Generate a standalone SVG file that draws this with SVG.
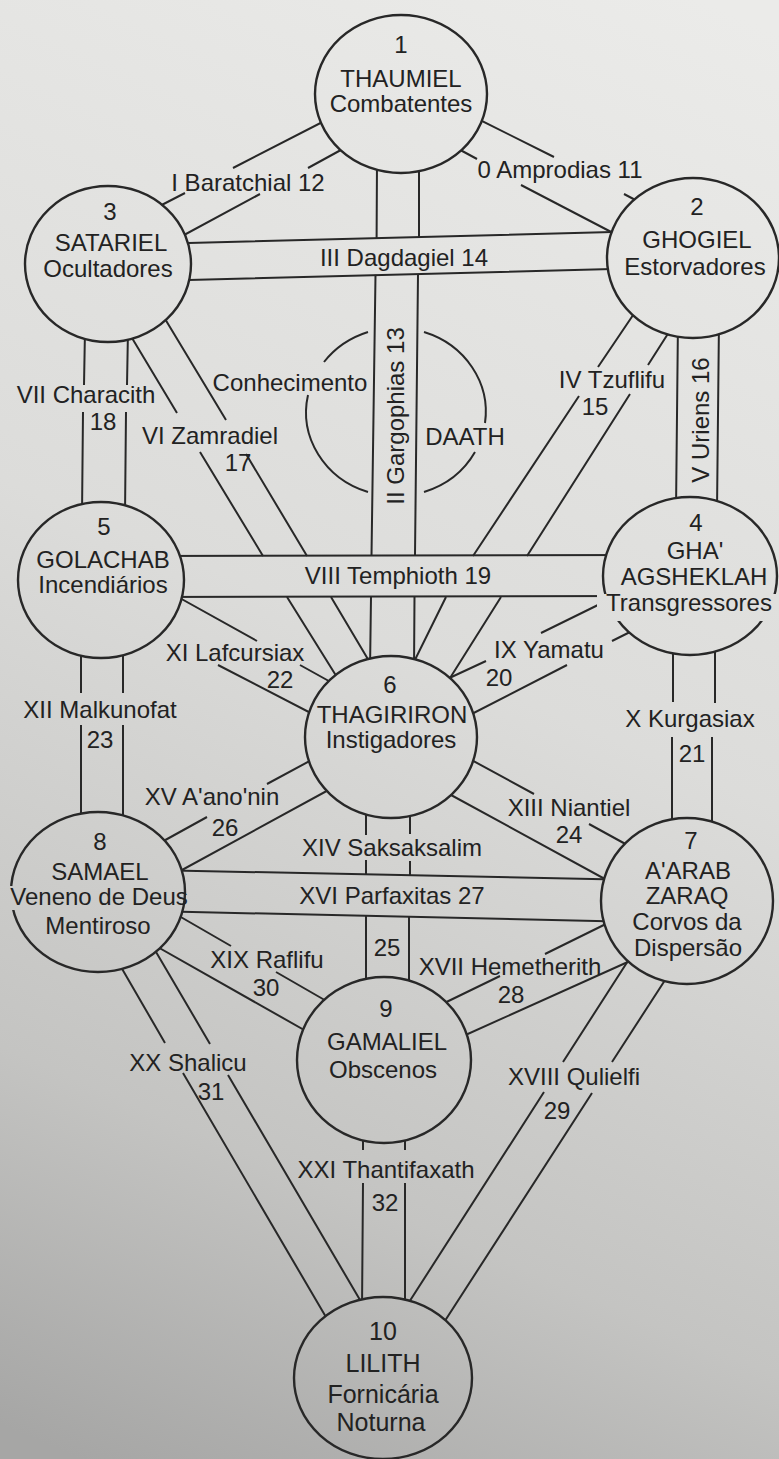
<svg xmlns="http://www.w3.org/2000/svg" width="779" height="1459" viewBox="0 0 779 1459">
<defs>
<linearGradient id="paper" gradientUnits="userSpaceOnUse" x1="700" y1="0" x2="80" y2="1459">
<stop offset="0" stop-color="#ebebe9"/>
<stop offset="0.45" stop-color="#dcdcda"/>
<stop offset="0.78" stop-color="#c4c4c2"/>
<stop offset="1" stop-color="#a6a6a5"/>
</linearGradient>
<style>
.ln{stroke:#282828;stroke-width:2;fill:none}
.nd{fill:url(#paper);stroke:#282828;stroke-width:2.4}
.msk{fill:url(#paper)}
.t{font-family:"Liberation Sans",Arial,sans-serif;font-size:24px;fill:#222;text-anchor:middle}
.big{font-size:25px}
</style>
</defs>
<rect x="0" y="0" width="779" height="1459" fill="url(#paper)"/>

<g id="connectors">
<path id="p11" class="ln" d="M460,110 L554,157 M624,194 L660,213 M440,139 L477,159 M521,185 L640,247"/>
<path id="p12" class="ln" d="M340,113 L233,168 M185,193 L150,211 M350,145 L308,168 M260,194 L160,248"/>
<path id="p13" class="ln" d="M377,160 L376.6,238.6 M375.5,274.7 L371.5,556 M371,597 L370,670 M419,160 L419,237.6 M418,274.4 L415,555 M414.5,596 L414,670"/>
<path id="p14" class="ln" d="M150,244 L650,231 M150,281 L650,268"/>
<path id="p15" class="ln" d="M650,290 L598,367 M579,396 L473,556 M446,597 L405,680 M685,307 L648,365 M630,394 L527,556 M501,597 L445,686"/>
<path id="p16" class="ln" d="M678,320 L676,510 M719,320 L717,510"/>
<path id="p17" class="ln" d="M120,318 L177,413 M200,452 L263,556 M287,597 L345,690 M150,294 L226,420 M246,454 L307,556 M331,597 L372,666"/>
<path id="p18" class="ln" d="M85,330 L84,385 M83,412 L82,515 M128,330 L127,385 M126,412 L125,515"/>
<path id="p19" class="ln" d="M150,556 L640,555 M150,597 L640,596"/>
<path id="p20" class="ln" d="M602,603 L541,633 M486,661 L430,687 M650,622 L612,641 M567,665 L460,720"/>
<path id="p21" class="ln" d="M673,640 L673,702 M672,737 L672,840 M715,640 L715,703 M712,737 L712,840"/>
<path id="p22" class="ln" d="M160,587 L257,641 M300,665 L345,690 M218,665 L330,723"/>
<path id="p23" class="ln" d="M81,640 L81,693 M81,725 L81,830 M123,640 L123,693 M123,725 L123,830"/>
<path id="p24" class="ln" d="M455,751 L534,794 M589,824 L640,852 M440,789 L625,890"/>
<path id="p25" class="ln" d="M366,800 L366,835 M366,860 L366,874.5 M410,800 L410,834 M410,861 L410,875.4 M366,916 L366,1000 M409,917 L409,1000"/>
<path id="p26" class="ln" d="M330,750 L267,784 M207,817 L140,854 M345,781 L160,882"/>
<path id="p27" class="ln" d="M150,870 L640,880 M150,911 L640,922"/>
<path id="p28" class="ln" d="M620,917 L545,954 M500,976 L430,1010 M650,952 L450,1042"/>
<path id="p29" class="ln" d="M635,950 L563,1062 M544,1092 L395,1324 M680,957 L612,1062 M592,1093 L430,1344"/>
<path id="p30" class="ln" d="M160,905 L231,946 M276,972 L335,1006 M140,937 L320,1039"/>
<path id="p31" class="ln" d="M110,948 L165,1043 M183,1073 L340,1341 M149,940 L210,1044 M228,1075 L370,1317"/>
<path id="p32" class="ln" d="M363,1130 L363,1150 M363,1183 L362,1310 M405,1130 L405,1150 M405,1183 L405,1310"/>
</g>

<g id="daath">
<path class="ln" d="M368,332 A90,84 0 0 0 324,362 M308,395 A90,84 0 0 0 368,492 M424,332 A90,84 0 0 1 485,423 M475,452 A90,84 0 0 1 424,492"/>
<text class="t" x="290" y="391">Conhecimento</text>
<text class="t" x="465" y="445">DAATH</text>
</g>

<g id="path-labels">
<text class="t" x="560" y="178">0 Amprodias 11</text>
<text class="t" x="248" y="191">I Baratchial 12</text>
<text class="t" x="404" y="266">III Dagdagiel 14</text>
<text class="t" transform="translate(404,416) rotate(-90)">II Gargophias 13</text>
<text class="t" x="612" y="388">IV Tzuflifu</text>
<text class="t" x="595" y="415">15</text>
<text class="t" transform="translate(709,420) rotate(-90)">V Uriens 16</text>
<text class="t" x="86" y="403">VII Characith</text>
<text class="t" x="103" y="430">18</text>
<text class="t" x="210" y="444">VI Zamradiel</text>
<text class="t" x="238" y="471">17</text>
<text class="t" x="398" y="584">VIII Temphioth 19</text>
<text class="t" x="235" y="661">XI Lafcursiax</text>
<text class="t" x="280" y="688">22</text>
<text class="t" x="549" y="658">IX Yamatu</text>
<text class="t" x="499" y="686">20</text>
<text class="t" x="100" y="718">XII Malkunofat</text>
<text class="t" x="100" y="748">23</text>
<text class="t" x="690" y="727">X Kurgasiax</text>
<text class="t" x="692" y="762">21</text>
<text class="t" x="212" y="805">XV A'ano'nin</text>
<text class="t" x="225" y="836">26</text>
<text class="t" x="569" y="816">XIII Niantiel</text>
<text class="t" x="569" y="843">24</text>
<text class="t" x="392" y="856">XIV Saksaksalim</text>
<text class="t" x="392" y="904">XVI Parfaxitas 27</text>
<text class="t" x="387" y="956">25</text>
<text class="t" x="267" y="968">XIX Raflifu</text>
<text class="t" x="266" y="996">30</text>
<text class="t" x="510" y="975">XVII Hemetherith</text>
<text class="t" x="511" y="1003">28</text>
<text class="t" x="188" y="1071">XX Shalicu</text>
<text class="t" x="211" y="1100">31</text>
<text class="t" x="574" y="1085">XVIII Qulielfi</text>
<text class="t" x="557" y="1119">29</text>
<text class="t" x="386" y="1178">XXI Thantifaxath</text>
<text class="t" x="385" y="1211">32</text>
</g>

<g id="node-1">
<ellipse class="nd" cx="401" cy="94" rx="86" ry="79"/>
<text class="t" x="401" y="53">1</text>
<text class="t" x="401" y="87">THAUMIEL</text>
<text class="t" x="401" y="112">Combatentes</text>
</g>
<g id="node-2">
<ellipse class="nd" cx="693" cy="258" rx="86" ry="80"/>
<text class="t" x="697" y="215">2</text>
<text class="t" x="697" y="248">GHOGIEL</text>
<text class="t" x="695" y="275">Estorvadores</text>
</g>
<g id="node-3">
<ellipse class="nd" cx="108" cy="264" rx="83" ry="78"/>
<text class="t" x="110" y="220">3</text>
<text class="t" x="111" y="251">SATARIEL</text>
<text class="t" x="108" y="277">Ocultadores</text>
</g>
<g id="node-4">
<ellipse class="nd" cx="690" cy="576" rx="87" ry="79"/>
<rect class="msk" x="597" y="594" width="182" height="27"/>
<text class="t" x="696" y="531">4</text>
<text class="t" x="695" y="559">GHA'</text>
<text class="t" x="694" y="585">AGSHEKLAH</text>
<text class="t" x="689" y="611">Transgressores</text>
</g>
<g id="node-5">
<ellipse class="nd" cx="101" cy="580" rx="83" ry="78"/>
<text class="t" x="104" y="535">5</text>
<text class="t" x="103" y="568">GOLACHAB</text>
<text class="t" x="103" y="593">Incendiários</text>
</g>
<g id="node-6">
<ellipse class="nd" cx="391" cy="737" rx="86" ry="81"/>
<text class="t" x="390" y="693">6</text>
<text class="t" x="392" y="723">THAGIRIRON</text>
<text class="t" x="391" y="748">Instigadores</text>
</g>
<g id="node-7">
<ellipse class="nd" cx="687" cy="901" rx="86" ry="83"/>
<text class="t" x="691" y="849">7</text>
<text class="t" x="688" y="879">A'ARAB</text>
<text class="t" x="687" y="904">ZARAQ</text>
<text class="t" x="687" y="930">Corvos da</text>
<text class="t" x="688" y="956">Dispersão</text>
</g>
<g id="node-8">
<ellipse class="nd" cx="98" cy="892" rx="87" ry="80"/>
<rect class="msk" x="5" y="886" width="28" height="24"/>
<text class="t" x="100" y="850">8</text>
<text class="t" x="100" y="880">SAMAEL</text>
<text class="t" x="99" y="905">Veneno de Deus</text>
<text class="t" x="98" y="934">Mentiroso</text>
</g>
<g id="node-9">
<ellipse class="nd" cx="384" cy="1060" rx="87" ry="83"/>
<text class="t" x="386" y="1017">9</text>
<text class="t" x="387" y="1050">GAMALIEL</text>
<text class="t" x="383" y="1078">Obscenos</text>
</g>
<g id="node-10">
<ellipse class="nd" cx="383" cy="1378" rx="89" ry="81"/>
<text class="t big" x="383" y="1340">10</text>
<text class="t big" x="383" y="1372">LILITH</text>
<text class="t big" x="383" y="1403">Fornicária</text>
<text class="t big" x="381" y="1431">Noturna</text>
</g>
</svg>
